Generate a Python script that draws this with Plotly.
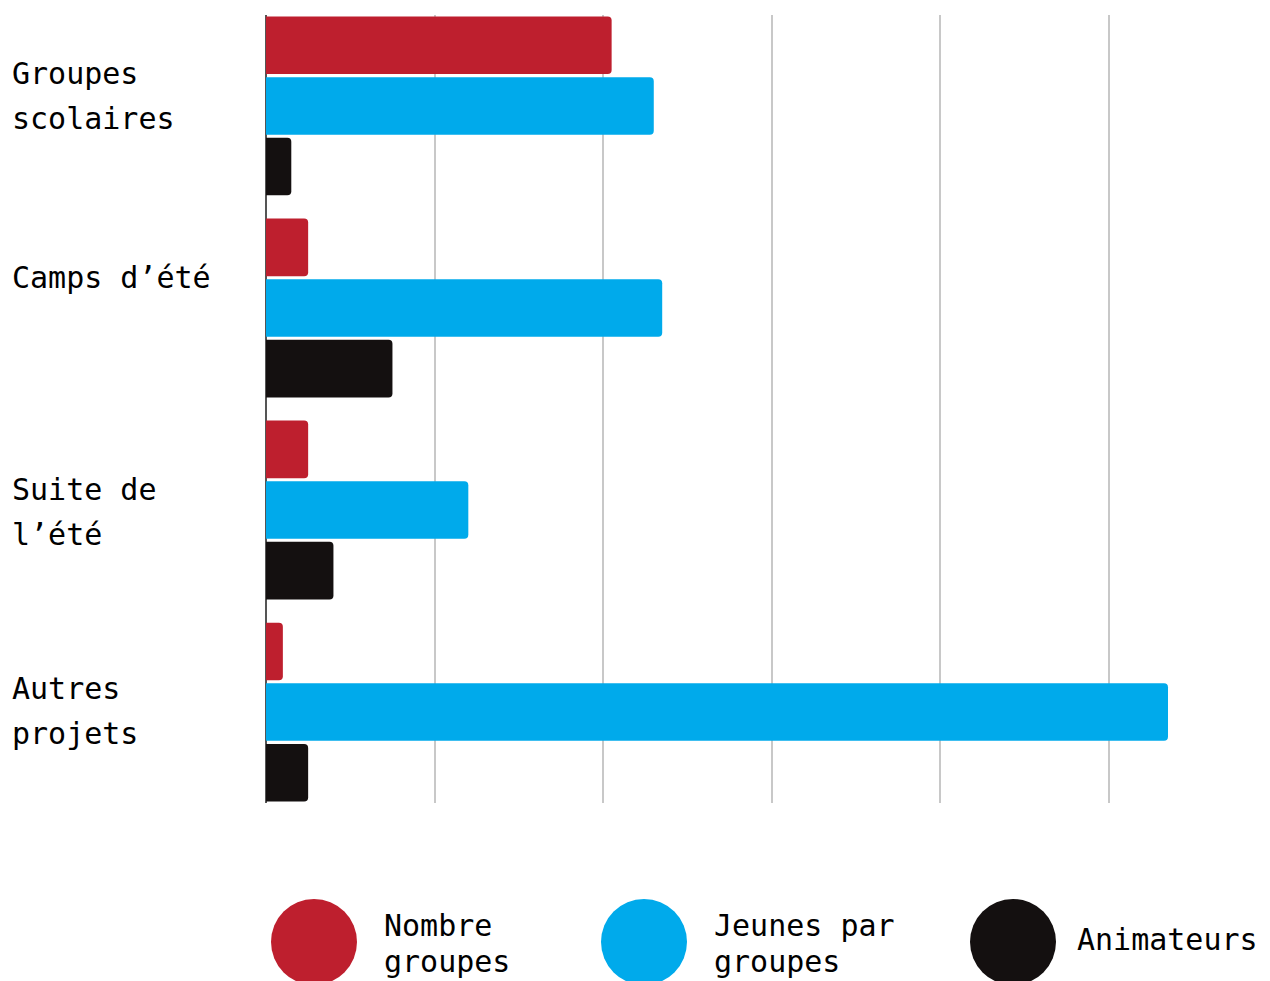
import plotly.graph_objects as go

categories = ["Groupes<br>scolaires", "Camps d’été", "Suite de<br>l’été", "Autres<br>projets"]
series_names = ["Nombre<br>groupes", "Jeunes par<br>groupes", "Animateurs"]
nombre_groupes = [20.5, 2.5, 2.5, 1.0]
jeunes_par_groupes = [23.0, 23.5, 12.0, 53.5]
animateurs = [1.5, 7.5, 4.0, 2.5]
series_values = [nombre_groupes, jeunes_par_groupes, animateurs]
colors = ["#BE1F2E", "#00AAEB", "#141010"]

O = 8  # page body margin
W, H = 1270 - O, 981 - O
L, R, T, B = 266 - O, 0, 15 - O, 178
PW, PH = W - L - R, H - T - B
FONT = "DejaVu Sans Mono"
FS = 30

def px(x):
    return (x - O - L) / PW

def py(y):
    return (T + PH - (y - O)) / PH

fig = go.Figure()
for name, vals, col in zip(series_names, series_values, colors):
    fig.add_trace(go.Bar(
        y=categories, x=vals, orientation="h", name=name,
        marker=dict(color=col, line=dict(width=0)), showlegend=False,
    ))

fig.update_layout(
    width=W, height=H,
    margin=dict(l=L, r=R, t=T, b=B, pad=0),
    paper_bgcolor="white", plot_bgcolor="white",
    barmode="group", bargap=0.1, bargroupgap=0.05,
    barcornerradius=4,
    font=dict(family=FONT, size=FS, color="black"),
    xaxis=dict(range=[0, 59.55], dtick=10, showticklabels=False,
               showgrid=True, gridcolor="#C8C8C8", gridwidth=1.5,
               zeroline=True, zerolinecolor="#555555", zerolinewidth=1.5,
               showline=False, ticks=""),
    yaxis=dict(type="category", categoryorder="array", categoryarray=categories,
               range=[3.45, -0.45], showticklabels=False, showgrid=False,
               zeroline=False, showline=False, ticks=""),
)

# Category labels (left-aligned, per line)
line_offsets = [[-32, 13], [-30], [-21, 24], [-24, 21]]
for cat, offs in zip(categories, line_offsets):
    for line, off in zip(cat.split("<br>"), offs):
        fig.add_annotation(
            x=px(10), xref="paper", y=cat, yref="y", yshift=-off,
            text=line, showarrow=False, xanchor="left", yanchor="middle",
            font=dict(family=FONT, size=FS, color="black"),
        )

# Legend (big circles + labels)
legend_cx = [314, 644, 1013]
legend_tx = [383, 713, 1076]
cy, r = 942, 43
for name, col, cx, tx in zip(series_names, colors, legend_cx, legend_tx):
    fig.add_shape(type="circle", xref="paper", yref="paper",
                  x0=px(cx - r), x1=px(cx + r), y0=py(cy + r), y1=py(cy - r),
                  fillcolor=col, line=dict(width=0), layer="above")
    lines = name.split("<br>")
    ys = [cy - 3] if len(lines) == 1 else [cy - 16, cy + 20]
    for line, ly in zip(lines, ys):
        fig.add_annotation(x=px(tx - 1), xref="paper", y=py(ly), yref="paper",
                           text=line, showarrow=False, xanchor="left", yanchor="middle",
                           align="left", font=dict(family=FONT, size=FS, color="black"))

fig.write_html("out.html")
